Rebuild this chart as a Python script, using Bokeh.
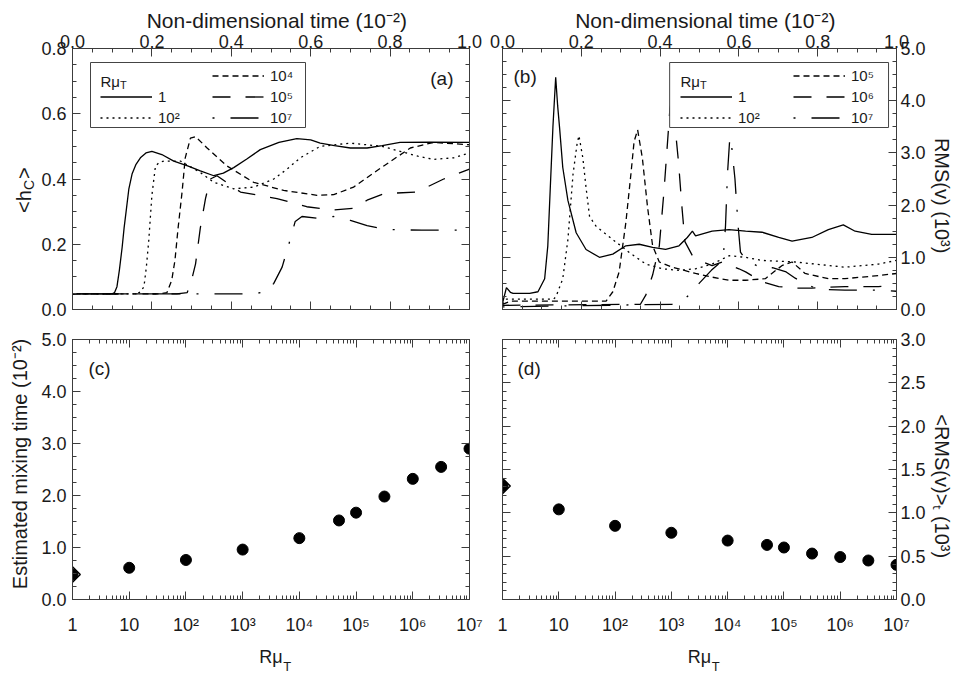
import math
from bokeh.plotting import figure
from bokeh.layouts import column, row
from bokeh.models import (Range1d, LinearAxis, LogAxis, LogScale, SingleIntervalTicker,
                          FixedTicker, PrintfTickFormatter, CustomJSTickFormatter,
                          Legend, LegendItem, Label, BoxAnnotation)
from bokeh.embed import file_html
from bokeh.resources import INLINE

# ---------------- data ----------------
# (a) <h_C> versus non-dimensional time (10^-2)
a_t_1 = [0.0, 0.100, 0.106, 0.112, 0.118, 0.125, 0.130, 0.136, 0.142, 0.150, 0.160, 0.171, 0.185, 0.200,
         0.225, 0.255, 0.290, 0.322, 0.356, 0.380, 0.406, 0.440, 0.473, 0.520, 0.565, 0.600, 0.624, 0.660,
         0.700, 0.742, 0.780, 0.825, 0.900, 1.0]
a_h_1 = [0.048, 0.048, 0.052, 0.07, 0.12, 0.19, 0.25, 0.31, 0.37, 0.415, 0.445, 0.465, 0.48, 0.485,
         0.475, 0.455, 0.44, 0.425, 0.41, 0.418, 0.435, 0.462, 0.49, 0.512, 0.524, 0.52, 0.51, 0.502,
         0.495, 0.495, 0.502, 0.512, 0.513, 0.512]
a_t_2 = [0.0, 0.163, 0.172, 0.180, 0.186, 0.192, 0.200, 0.209, 0.220, 0.230, 0.272, 0.322, 0.356, 0.406,
         0.456, 0.507, 0.540, 0.574, 0.624, 0.700, 0.780, 0.825, 0.870, 0.910, 0.960, 1.0]
a_h_2 = [0.048, 0.048, 0.055, 0.07, 0.13, 0.21, 0.35, 0.44, 0.452, 0.455, 0.455, 0.42, 0.39, 0.37,
         0.375, 0.40, 0.43, 0.465, 0.50, 0.51, 0.50, 0.485, 0.47, 0.46, 0.465, 0.48]
a_t_4 = [0.0, 0.221, 0.238, 0.250, 0.258, 0.266, 0.276, 0.284, 0.297, 0.310, 0.339, 0.389, 0.456, 0.532,
         0.616, 0.658, 0.708, 0.784, 0.851, 0.909, 1.0]
a_h_4 = [0.048, 0.048, 0.052, 0.09, 0.15, 0.25, 0.36, 0.465, 0.525, 0.53, 0.495, 0.44, 0.39, 0.365,
         0.35, 0.352, 0.375, 0.44, 0.495, 0.512, 0.505]
a_t_5 = [0.0, 0.263, 0.289, 0.300, 0.310, 0.322, 0.335, 0.347, 0.364, 0.423, 0.515, 0.590, 0.658, 0.708,
         0.742, 0.784, 0.867, 0.935, 1.0]
a_h_5 = [0.048, 0.048, 0.052, 0.09, 0.14, 0.25, 0.34, 0.40, 0.41, 0.36, 0.34, 0.315, 0.305, 0.31,
         0.335, 0.355, 0.36, 0.40, 0.43]
a_t_7 = [0.0, 0.456, 0.490, 0.507, 0.528, 0.545, 0.561, 0.578, 0.616, 0.658, 0.700, 0.742, 0.792, 0.880, 1.0]
a_h_7 = [0.048, 0.048, 0.055, 0.08, 0.13, 0.20, 0.27, 0.285, 0.28, 0.285, 0.273, 0.257, 0.245, 0.243, 0.243]

# (b) RMS(v) (10^3) versus non-dimensional time (10^-2)
b_t_1 = [0.0, 0.010, 0.020, 0.027, 0.069, 0.090, 0.107, 0.115, 0.121, 0.128, 0.135, 0.140, 0.145, 0.153,
         0.166, 0.187, 0.212, 0.246, 0.280, 0.313, 0.347, 0.381, 0.414, 0.448, 0.469, 0.482, 0.490, 0.532,
         0.575, 0.617, 0.659, 0.701, 0.735, 0.785, 0.827, 0.865, 0.895, 0.937, 1.0]
b_v_1 = [0.12, 0.42, 0.33, 0.31, 0.31, 0.34, 0.59, 1.22, 2.28, 3.50, 4.45, 3.90, 3.47, 2.72,
         2.09, 1.47, 1.15, 1.00, 1.06, 1.22, 1.25, 1.19, 1.15, 1.22, 1.38, 1.50, 1.41, 1.50,
         1.53, 1.50, 1.48, 1.38, 1.31, 1.38, 1.53, 1.62, 1.50, 1.44, 1.44]
b_t_2 = [0.0, 0.010, 0.130, 0.136, 0.153, 0.166, 0.179, 0.189, 0.194, 0.204, 0.212, 0.221, 0.238, 0.280,
         0.322, 0.364, 0.406, 0.448, 0.490, 0.532, 0.575, 0.617, 0.659, 0.743, 0.869, 0.954, 1.0]
b_v_2 = [0.10, 0.20, 0.20, 0.25, 0.59, 1.34, 2.59, 3.16, 3.33, 2.90, 2.34, 1.78, 1.59, 1.34,
         1.09, 0.87, 0.78, 0.75, 0.78, 0.87, 1.03, 1.00, 0.94, 0.91, 0.81, 0.87, 0.94]
b_t_5 = [0.0, 0.020, 0.263, 0.280, 0.296, 0.313, 0.326, 0.334, 0.343, 0.355, 0.368, 0.381, 0.398, 0.431,
         0.490, 0.532, 0.575, 0.617, 0.667, 0.709, 0.735, 0.768, 0.827, 0.869, 0.954, 1.0]
b_v_5 = [0.10, 0.16, 0.16, 0.34, 0.72, 1.66, 2.60, 3.22, 3.44, 2.90, 1.97, 1.22, 0.91, 0.81,
         0.69, 0.62, 0.56, 0.56, 0.59, 0.84, 0.91, 0.69, 0.59, 0.59, 0.65, 0.69]
b_t_6 = [0.0, 0.350, 0.364, 0.381, 0.398, 0.410, 0.419, 0.425, 0.431, 0.440, 0.447, 0.455, 0.463, 0.482,
         0.499, 0.532, 0.558, 0.600, 0.617, 0.659, 0.701, 0.743, 0.785, 0.869, 0.954, 1.0]
b_v_6 = [0.08, 0.10, 0.28, 0.66, 1.22, 2.28, 3.22, 3.85, 4.10, 3.35, 2.80, 2.00, 1.30, 1.03,
         0.94, 0.84, 0.91, 0.78, 0.72, 0.53, 0.44, 0.41, 0.41, 0.44, 0.44, 0.47]
b_t_7 = [0.0, 0.431, 0.465, 0.482, 0.499, 0.530, 0.560, 0.566, 0.571, 0.577, 0.582, 0.590, 0.598, 0.604,
         0.617, 0.659, 0.685, 0.720, 0.743, 0.785, 0.827, 0.869, 0.954, 1.0]
b_v_7 = [0.05, 0.10, 0.22, 0.34, 0.50, 0.75, 0.95, 1.60, 2.60, 3.30, 3.10, 2.50, 1.60, 1.10,
         0.96, 0.78, 0.80, 0.72, 0.60, 0.44, 0.38, 0.37, 0.37, 0.35]

# (c), (d) versus R mu_T
r_mu = [1, 10, 100, 1000, 1e4, 5e4, 1e5, 3.16e5, 1e6, 3.16e6, 1e7]
mix_time = [0.48, 0.61, 0.76, 0.96, 1.18, 1.52, 1.67, 1.98, 2.32, 2.55, 2.90]
rms_mean = [1.31, 1.04, 0.85, 0.77, 0.68, 0.63, 0.60, 0.53, 0.49, 0.45, 0.40]

decade_ticks = [1, 10, 100, 1000, 1e4, 1e5, 1e6, 1e7]
decade_labels = ["1", "10", "10²", "10³", "10⁴", "10⁵", "10⁶", "10⁷"]
legend_a = ["1", "10²", "10⁴", "10⁵", "10⁷"]
legend_b = ["1", "10²", "10⁵", "10⁶", "10⁷"]

# ---------------- style ----------------
FONT = "Liberation Sans"
INK = "#1a1a1a"
FRAME = "#3c3c3c"
LW = 1.3
DASHES = ["solid", "2 4", "6 4", "18 15", "2 16 28 16"]
NB = "\u00a0"
ZW = "\u200b"

FW_L, FW_R, FH = 397, 396, 261


def make_fig(w, h, xr, yr, borders, xlog=False):
    l, r, t, b = borders
    p = figure(width=w, height=h, x_range=xr, y_range=yr, x_axis_type=None, y_axis_type=None,
               toolbar_location=None, tools="", output_backend="svg",
               min_border_left=l, min_border_right=r, min_border_top=t, min_border_bottom=b)
    if xlog:
        p.x_scale = LogScale()
    p.outline_line_color = FRAME
    p.outline_line_width = 1
    p.background_fill_color = "white"
    p.border_fill_color = "white"
    return p


def set_label(ax, label, size, standoff):
    ax.axis_label = label
    ax.axis_label_text_font = FONT
    ax.axis_label_text_font_size = f"{size}px"
    ax.axis_label_text_font_style = "normal"
    ax.axis_label_text_color = INK
    ax.axis_label_standoff = standoff


def style_axis(ax, show, standoff=5, label=None, label_standoff=4, label_size=20):
    ax.axis_line_color = FRAME
    ax.major_tick_line_color = FRAME
    ax.minor_tick_line_color = FRAME
    ax.major_tick_in = 8
    ax.major_tick_out = 0
    ax.minor_tick_in = 4
    ax.minor_tick_out = 0
    ax.major_label_text_font = FONT
    ax.major_label_text_color = INK
    if show:
        ax.major_label_text_font_size = "18px"
        ax.major_label_standoff = standoff
    else:
        ax.formatter = CustomJSTickFormatter(code="return '';")
        ax.major_label_text_font_size = "1px"
        ax.major_label_standoff = 0
    if label is not None:
        set_label(ax, label, label_size, label_standoff)
    return ax


def label_only_axis(kind, label, size, standoff):
    # an axis that shows nothing but its label (used for the subscript part of a label)
    ax = kind(ticker=FixedTicker(ticks=[]), formatter=CustomJSTickFormatter(code="return '';"))
    ax.axis_line_color = None
    ax.major_tick_line_color = None
    ax.minor_tick_line_color = None
    ax.major_tick_in = 0
    ax.major_tick_out = 0
    ax.minor_tick_in = 0
    ax.minor_tick_out = 0
    ax.major_label_text_font_size = "1px"
    ax.major_label_standoff = 0
    set_label(ax, label, size, standoff)
    return ax


def lin_axis(interval, minor, show, **kw):
    ax = LinearAxis(ticker=SingleIntervalTicker(interval=interval, num_minor_ticks=minor),
                    formatter=PrintfTickFormatter(format="%.1f"))
    return style_axis(ax, show, **kw)


def log_axis(show, **kw):
    minors = [k * 10 ** n for n in range(0, 7) for k in range(2, 10)]
    fmt = CustomJSTickFormatter(args=dict(dec=decade_ticks, labs=decade_labels), code="""
        for (let i = 0; i < dec.length; i++) {
            if (Math.abs(Math.log10(dec[i]) - Math.log10(tick)) < 1e-6) { return labs[i]; }
        }
        return '';
    """)
    ax = LogAxis(ticker=FixedTicker(ticks=decade_ticks, minor_ticks=minors), formatter=fmt)
    return style_axis(ax, show, **kw)


def text(p, x, y, s, dx, dy, size, angle=0.0, align="left", baseline="alphabetic"):
    p.add_layout(Label(x=x, y=y, x_offset=dx, y_offset=dy, text=s, angle=angle,
                       text_font=FONT, text_font_size=f"{size}px", text_color=INK,
                       text_align=align, text_baseline=baseline))


def legend_box(p, fw, x0, x1, y0, y1, px_l, px_r, py_top, py_bot):
    # px measured from frame left, py measured from frame bottom (upwards)
    sx = lambda v: x0 + v / fw * (x1 - x0)
    sy = lambda v: y0 + v / FH * (y1 - y0)
    p.add_layout(BoxAnnotation(left=sx(px_l), right=sx(px_r), bottom=sy(py_bot), top=sy(py_top),
                               fill_color="white", fill_alpha=1.0, line_color="#444", line_width=1,
                               line_alpha=1.0))


def legends(p, rends, labels, x_col1, x_col2, vy):
    common = dict(orientation="vertical", padding=0, spacing=4, margin=0, glyph_width=52,
                  glyph_height=17, label_height=17, label_standoff=6, label_text_font=FONT,
                  label_text_font_size="15px", label_text_color=INK, border_line_alpha=0,
                  background_fill_alpha=0)
    l1 = Legend(items=[LegendItem(label=labels[i], renderers=[rends[i]]) for i in (0, 1)],
                location=(x_col1, vy), **common)
    l2 = Legend(items=[LegendItem(label=labels[i], renderers=[rends[i]]) for i in (2, 3, 4)],
                location=(x_col2, vy), **common)
    p.add_layout(l1)
    p.add_layout(l2)


TIME_LABEL = NB * 2 + "Non-dimensional time (10⁻²)"

# ---------------- (a) ----------------
pa = make_fig(485, 323, Range1d(0, 1), Range1d(0, 0.8), (72, 16, 48, 14))
pa.add_layout(lin_axis(0.2, 4, True, standoff=1, label=TIME_LABEL, label_standoff=0, label_size=21), "above")
pa.add_layout(lin_axis(0.2, 4, False), "below")
pa.add_layout(lin_axis(0.2, 4, True, standoff=6, label="<h" + NB * 2 + ">" + NB * 4 + ZW, label_standoff=3), "left")
pa.add_layout(label_only_axis(LinearAxis, "C" + NB * 3 + ZW, 14, -26), "left")
pa.add_layout(lin_axis(0.2, 4, False), "right")
ra = []
for (t, h), d in zip([(a_t_1, a_h_1), (a_t_2, a_h_2), (a_t_4, a_h_4), (a_t_5, a_h_5), (a_t_7, a_h_7)], DASHES):
    ra.append(pa.line(t, h, line_color="black", line_width=LW, line_dash=d))
legend_box(pa, FW_L, 0, 1, 0, 0.8, 18, 233, 247, 182)
legends(pa, ra, legend_a, 28, 140, 183.5)
text(pa, 0, 0, "Rμ", 28, 228.5, 15)
text(pa, 0, 0, "T", 47.5, 224.5, 11)
text(pa, 1, 0.8, "(a)", -16, -30, 19, align="right", baseline="middle")

# ---------------- (b) ----------------
pb = make_fig(470, 323, Range1d(0, 1), Range1d(0, 5), (17, 57, 48, 14))
pb.add_layout(lin_axis(0.2, 4, True, standoff=1, label=TIME_LABEL, label_standoff=0, label_size=21), "above")
pb.add_layout(lin_axis(0.2, 4, False), "below")
pb.add_layout(lin_axis(1.0, 4, False), "left")
pb.add_layout(lin_axis(1.0, 4, True, standoff=4, label=NB * 6 + "RMS(v) (10³)", label_standoff=2), "right")
rb = []
for (t, v), d in zip([(b_t_1, b_v_1), (b_t_2, b_v_2), (b_t_5, b_v_5), (b_t_6, b_v_6), (b_t_7, b_v_7)], DASHES):
    rb.append(pb.line(t, v, line_color="black", line_width=LW, line_dash=d))
legend_box(pb, FW_R, 0, 1, 0, 5, 168, 388, 247, 182)
legends(pb, rb, legend_b, 178, 291, 183.5)
text(pb, 0, 0, "Rμ", 178, 228.5, 15)
text(pb, 0, 0, "T", 197.5, 224.5, 11)
text(pb, 0, 5, "(b)", 11, -28, 19, baseline="middle")

# ---------------- (c) ----------------
pc = make_fig(485, 353, Range1d(1, 1e7), Range1d(0, 5), (72, 16, 16, 76), xlog=True)
pc.add_layout(log_axis(True, standoff=15, label="Rμ", label_standoff=9, label_size=18), "below")
pc.add_layout(label_only_axis(LogAxis, NB * 9 + "T", 13, -11), "below")
pc.add_layout(log_axis(False), "above")
pc.add_layout(lin_axis(1.0, 4, True, standoff=6, label=NB * 2 + "Estimated mixing time (10⁻²)",
                       label_standoff=7), "left")
pc.add_layout(lin_axis(1.0, 4, False), "right")
pc.scatter(r_mu[:1], mix_time[:1], marker="square", angle=math.pi / 4, size=11,
           fill_color=None, line_color="black", line_width=1.5)
pc.scatter(r_mu, mix_time, marker="circle", size=11, fill_color="black", line_color="black")
text(pc, 1, 5, "(c)", 16, -29, 19, baseline="middle")

# ---------------- (d) ----------------
pd = make_fig(470, 353, Range1d(1, 1e7), Range1d(0, 3), (17, 57, 16, 76), xlog=True)
pd.add_layout(log_axis(True, standoff=15, label="Rμ", label_standoff=9, label_size=18), "below")
pd.add_layout(label_only_axis(LogAxis, NB * 9 + "T", 13, -11), "below")
pd.add_layout(log_axis(False), "above")
pd.add_layout(lin_axis(0.5, 5, False), "left")
pd.add_layout(lin_axis(0.5, 5, True, standoff=4, label=NB * 6 + "<RMS(v)>ₜ (10³)", label_standoff=2), "right")
pd.scatter(r_mu[:1], rms_mean[:1], marker="square", angle=math.pi / 4, size=11,
           fill_color=None, line_color="black", line_width=1.5)
pd.scatter(r_mu, rms_mean, marker="circle", size=11, fill_color="black", line_color="black")
text(pd, 1, 3, "(d)", 15, -29, 19, baseline="middle")

layout = column(row(pa, pb), row(pc, pd))
open("out.html", "w").write(file_html(layout, INLINE, title="Mixing"))
